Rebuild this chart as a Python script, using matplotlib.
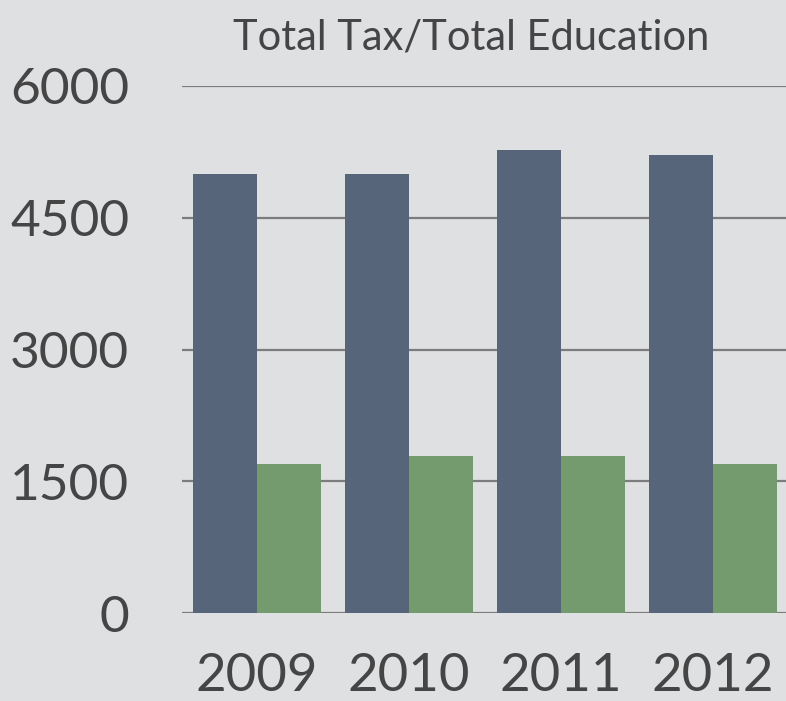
import matplotlib
matplotlib.use("Agg")
import matplotlib.pyplot as plt
import numpy as np

years = ["2009", "2010", "2011", "2012"]
total_tax = [5000, 5000, 5270, 5210]
total_education = [1700, 1790, 1790, 1700]
y_ticks = [0, 1500, 3000, 4500, 6000]
title = "Total Tax/Total Education"

bg = "#dfe0e2"
c_tax = "#56657a"
c_edu = "#739b6e"
txt = "#454545"

plt.rcParams['font.family'] = ['Lato', 'DejaVu Sans']

W, H = 786, 701
fig = plt.figure(figsize=(W / 100, H / 100), dpi=100, facecolor=bg)
ax = fig.add_axes([182 / W, (H - 613) / H, (786 - 182) / W, (613 - 86) / H])
ax.set_facecolor(bg)

x = np.arange(len(years))
bw = 0.421
ax.bar(x - bw / 2, total_tax, width=bw, color=c_tax, zorder=3)
ax.bar(x + bw / 2, total_education, width=bw, color=c_edu, zorder=3)

ax.set_xlim(-0.4934, 3.48)
ax.set_ylim(0, 6000)
ax.set_yticks(y_ticks)
ax.set_yticklabels([str(v) for v in y_ticks], fontsize=37, color=txt)
ax.set_xticks(x)
ax.set_xticklabels(years, fontsize=38, color=txt)
ax.tick_params(axis='both', length=0)
ax.tick_params(axis='y', pad=38)
ax.tick_params(axis='x', pad=29)
ax.yaxis.grid(True, color="#7c7c7c", linewidth=1.6, zorder=1)
ax.set_axisbelow(True)
for s in ax.spines.values():
    s.set_visible(False)

fig.text(471 / W, (H - 37) / H, title, ha='center', va='center', fontsize=30, color=txt)

fig.savefig("out.png", dpi=100, facecolor=bg)
